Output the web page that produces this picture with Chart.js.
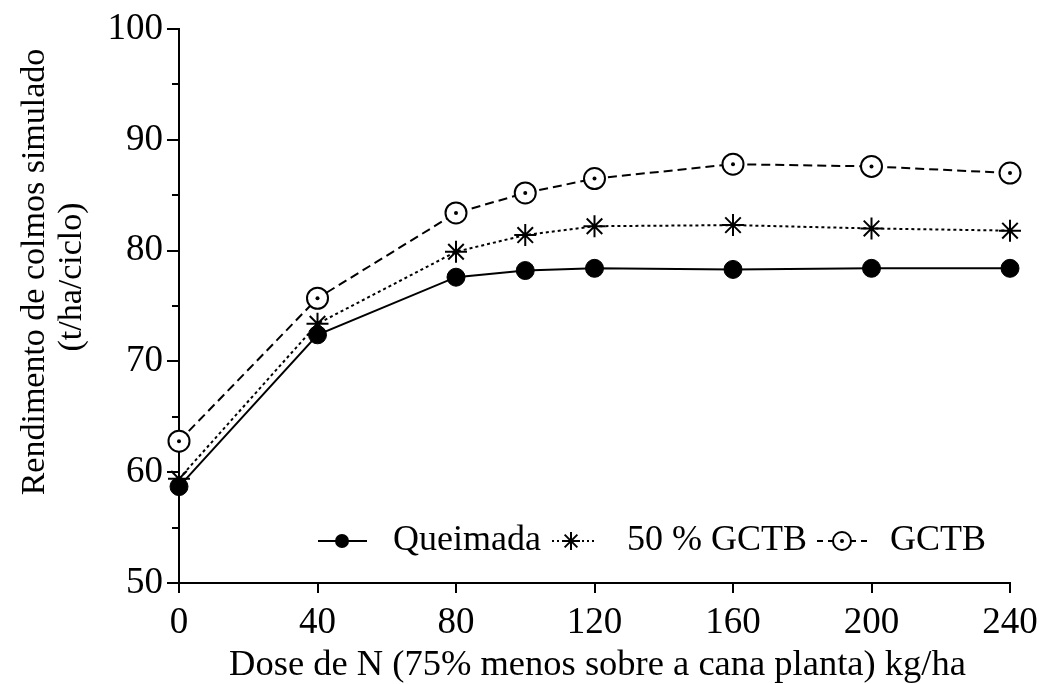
<!DOCTYPE html>
<html>
<head>
<meta charset="utf-8">
<script src="https://cdn.jsdelivr.net/npm/chart.js@4.4.1/dist/chart.umd.min.js"></script>
<style>
  html, body { margin: 0; padding: 0; background: #fff; }
  #wrap { width: 1039px; height: 684px; }
</style>
</head>
<body>
<div id="wrap"><canvas id="c" width="1039" height="684"></canvas></div>
<script>
// Nitrogen dose (kg/ha) and simulated stalk yield (t/ha/ciclo) per management
const doses = [0, 40, 80, 100, 120, 160, 200, 240];
const queimada = [58.7, 72.4, 77.6, 78.2, 78.4, 78.3, 78.4, 78.4];
const gctb50 = [59.4, 73.4, 79.9, 81.4, 82.2, 82.3, 82.0, 81.8];
const gctb = [62.8, 75.7, 83.4, 85.2, 86.5, 87.8, 87.6, 87.0];

const seriesNames = ['Queimada', '50 % GCTB', 'GCTB'];
const xTicks = [0, 40, 80, 120, 160, 200, 240];
const yTicks = [50, 60, 70, 80, 90, 100];
const yMinorTicks = [55, 65, 75, 85, 95];

const xTitle = 'Dose de N (75% menos sobre a cana planta) kg/ha';
const yTitle = ['Rendimento de colmos simulado', '(t/ha/ciclo)'];

const FONT = '"Liberation Serif", "Times New Roman", serif';
const toXY = (ys) => doses.map((d, i) => ({ x: d, y: ys[i] }));

// Axis titles, minor y ticks and the in-plot legend
const decor = {
  id: 'decor',
  afterDraw(chart) {
    const ctx = chart.ctx;
    const y = chart.scales.y, x = chart.scales.x;
    ctx.save();
    ctx.strokeStyle = '#000';
    ctx.lineWidth = 2;
    yMinorTicks.forEach(v => {
      const py = Math.round(y.getPixelForValue(v));
      ctx.beginPath();
      ctx.moveTo(x.left - 7, py);
      ctx.lineTo(x.left, py);
      ctx.stroke();
    });

    ctx.fillStyle = '#000';
    ctx.font = '36.5px ' + FONT;
    ctx.textAlign = 'center';
    ctx.textBaseline = 'middle';
    ctx.fillText(xTitle, (x.left + x.right) / 2 + 3, 665);

    ctx.font = '34px ' + FONT;
    ctx.save();
    ctx.translate(35, 272);
    ctx.rotate(-Math.PI / 2);
    ctx.fillText(yTitle[0], 0, 0);
    ctx.restore();
    ctx.save();
    ctx.translate(72, 277);
    ctx.rotate(-Math.PI / 2);
    ctx.fillText(yTitle[1], 0, 0);
    ctx.restore();

    // legend
    ctx.font = '36px ' + FONT;
    const ly = 541;
    ctx.textAlign = 'left';
    ctx.lineWidth = 2;
    // Queimada
    ctx.setLineDash([]);
    ctx.beginPath(); ctx.moveTo(318, ly); ctx.lineTo(367, ly); ctx.stroke();
    ctx.beginPath(); ctx.arc(342, ly, 7, 0, Math.PI * 2); ctx.fill();
    ctx.fillText(seriesNames[0], 393, ly);
    // 50 % GCTB
    ctx.setLineDash([2, 3]);
    ctx.beginPath(); ctx.moveTo(552, ly); ctx.lineTo(594, ly); ctx.stroke();
    ctx.setLineDash([]);
    ctx.fillStyle = '#fff';
    ctx.fillRect(561, ly - 10, 20, 20);
    ctx.fillStyle = '#000';
    const sr = 9;
    ctx.beginPath();
    for (let k = 0; k < 4; k++) {
      const a = k * Math.PI / 4;
      ctx.moveTo(571 - sr * Math.cos(a), ly - sr * Math.sin(a));
      ctx.lineTo(571 + sr * Math.cos(a), ly + sr * Math.sin(a));
    }
    ctx.stroke();
    ctx.fillText(seriesNames[1], 627, ly);
    // GCTB
    ctx.setLineDash([6, 5]);
    ctx.beginPath(); ctx.moveTo(817, ly); ctx.lineTo(867, ly); ctx.stroke();
    ctx.setLineDash([]);
    ctx.fillStyle = '#fff';
    ctx.beginPath(); ctx.arc(842, ly, 9, 0, Math.PI * 2); ctx.fill(); ctx.stroke();
    ctx.fillStyle = '#000';
    ctx.beginPath(); ctx.arc(842, ly, 2, 0, Math.PI * 2); ctx.fill();
    ctx.fillText(seriesNames[2], 890, ly);
    ctx.restore();
  }
};

new Chart(document.getElementById('c'), {
  type: 'line',
  data: {
    datasets: [
      {
        label: seriesNames[2] + ' centro',
        data: toXY(gctb),
        showLine: false,
        clip: false,
        pointStyle: 'circle',
        pointRadius: 2,
        pointBackgroundColor: '#000',
        pointBorderWidth: 0
      },
      {
        label: seriesNames[0],
        data: toXY(queimada),
        clip: false,
        borderColor: '#000',
        borderWidth: 2,
        pointStyle: 'circle',
        pointRadius: 9,
        pointBackgroundColor: '#000',
        pointBorderColor: '#000',
        pointBorderWidth: 1
      },
      {
        label: seriesNames[1],
        data: toXY(gctb50),
        clip: false,
        borderColor: '#000',
        borderWidth: 2,
        borderDash: [3, 3],
        pointStyle: 'star',
        pointRadius: 11,
        pointBackgroundColor: '#000',
        pointBorderColor: '#000',
        pointBorderWidth: 2
      },
      {
        label: seriesNames[2],
        data: toXY(gctb),
        clip: false,
        borderColor: '#000',
        borderWidth: 2,
        borderDash: [9, 5],
        pointStyle: 'circle',
        pointRadius: 10.5,
        pointBackgroundColor: '#fff',
        pointBorderColor: '#000',
        pointBorderWidth: 2
      }
    ]
  },
  options: {
    responsive: false,
    animation: false,
    events: [],
    layout: { padding: { top: 29, right: 29, left: 0, bottom: 0 } },
    plugins: { legend: { display: false }, tooltip: { enabled: false } },
    scales: {
      x: {
        type: 'linear',
        min: 0,
        max: 240,
        afterFit: (s) => { s.height = 101; s.paddingLeft = 0; s.paddingRight = 0; },
        afterBuildTicks: (s) => { s.ticks = xTicks.map(v => ({ value: v })); },
        border: { display: true, color: '#000', width: 2 },
        grid: { drawOnChartArea: false, drawTicks: true, tickLength: 10, color: '#000', lineWidth: 2 },
        ticks: { color: '#000', font: { family: FONT, size: 37 }, padding: 8, maxRotation: 0 }
      },
      y: {
        min: 50,
        max: 100,
        afterFit: (s) => { s.width = 179; s.paddingTop = 0; s.paddingBottom = 0; },
        afterBuildTicks: (s) => { s.ticks = yTicks.map(v => ({ value: v })); },
        border: { display: true, color: '#000', width: 2 },
        grid: { drawOnChartArea: false, drawTicks: true, tickLength: 12, color: '#000', lineWidth: 2 },
        ticks: { color: '#000', font: { family: FONT, size: 37 }, padding: 4 }
      }
    }
  },
  plugins: [decor]
});
</script>
</body>
</html>
